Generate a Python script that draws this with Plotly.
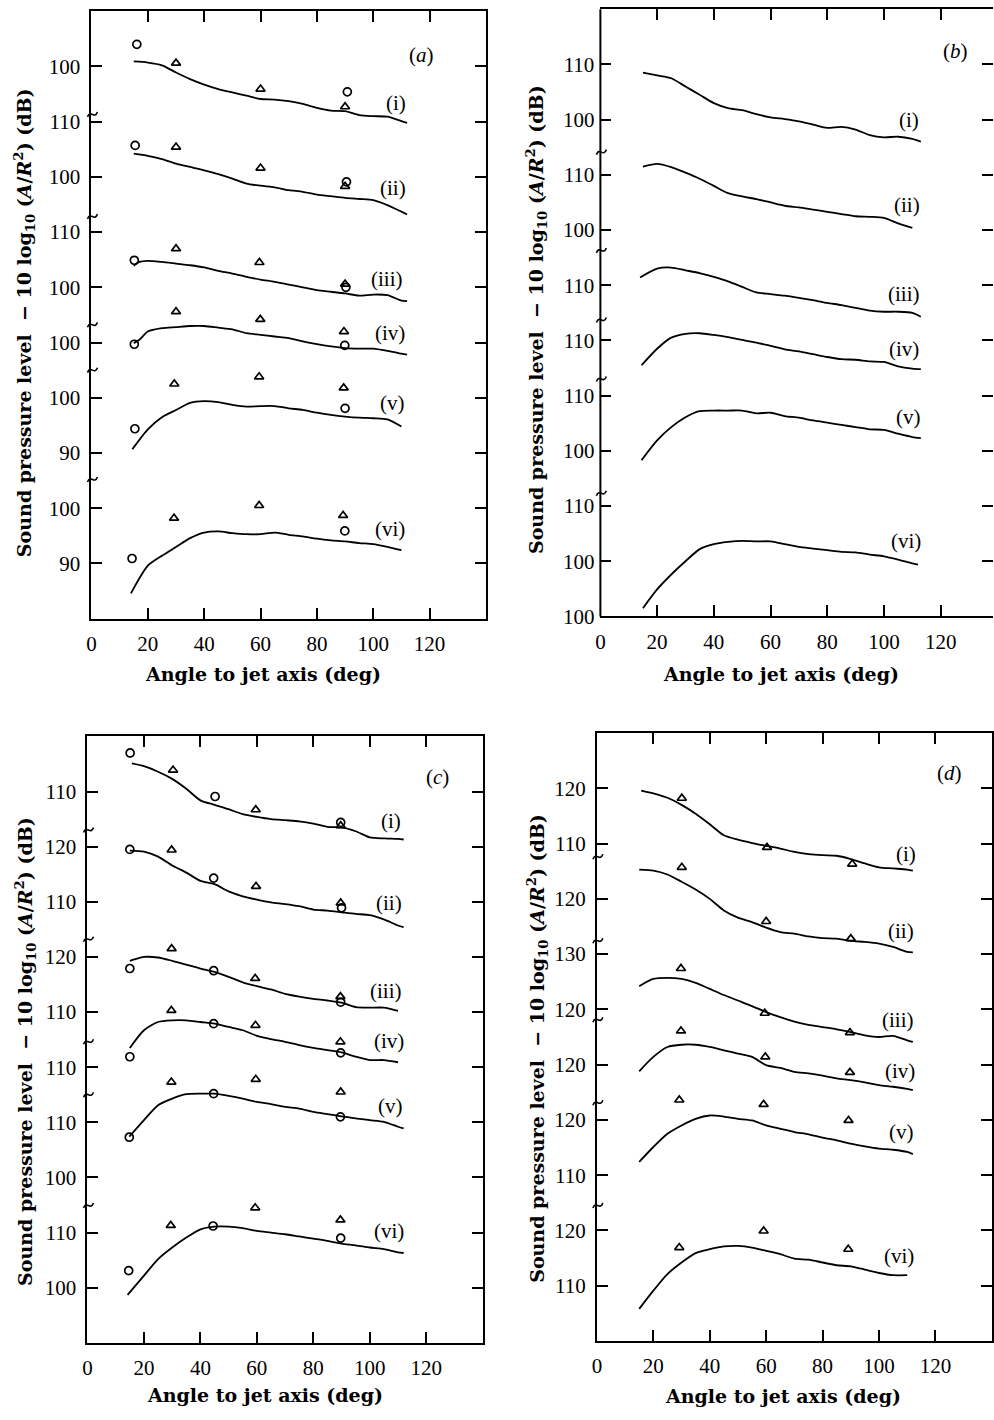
import plotly.graph_objects as go

W, H = 994, 1420
FONT = "Liberation Serif"
TFONT = "DejaVu Serif"

G = [20, 25, 30, 35, 40, 45, 50, 55, 60, 65, 70, 75, 80, 85, 90, 95, 100, 105, 110]
CURVE_NAMES = ["(i)", "(ii)", "(iii)", "(iv)", "(v)", "(vi)"]
X_TICKS = [0, 20, 40, 60, 80, 100, 120]

# ---------------- panel (a) ----------------
A_TICKLABELS = ["100", "110", "100", "110", "100", "100", "100", "90", "100", "90"]
A_REF = [0, 1, 3, 5, 6, 8]
A_ANG = [[15] + G + [112], [15] + G + [112], [15, 17] + G + [112],
         [15, 17] + G + [112], [14.5] + G, [14] + G]
A_DB = [
    [100.9, 100.7, 100.2, 98.9, 97.7, 96.7, 95.9, 95.3, 94.7, 94.1, 94.0, 93.7, 93.2, 92.5, 92.0, 91.9, 91.2, 91.0, 90.9, 90.1, 89.8],
    [104.2, 103.8, 103.2, 102.4, 101.8, 101.2, 100.5, 99.7, 98.8, 98.4, 98.1, 97.6, 97.3, 96.8, 96.5, 96.2, 96.0, 95.8, 94.9, 93.7, 93.2],
    [103.9, 104.6, 104.8, 104.6, 104.3, 104.0, 103.6, 103.0, 102.5, 101.9, 101.4, 101.0, 100.5, 100.0, 99.5, 99.2, 98.9, 98.5, 98.7, 98.6, 97.6, 97.5],
    [99.9, 100.5, 102.0, 102.6, 102.8, 103.0, 103.0, 102.7, 102.4, 101.7, 101.4, 101.1, 100.8, 100.2, 99.7, 99.3, 99.0, 98.9, 98.9, 98.5, 98.0, 97.8],
    [90.7, 94.3, 96.5, 97.8, 99.1, 99.4, 99.2, 98.7, 98.4, 98.5, 98.5, 98.1, 97.8, 97.3, 96.9, 96.6, 96.4, 96.3, 96.1, 94.8],
    [84.6, 89.6, 91.4, 93.0, 94.6, 95.6, 95.8, 95.5, 95.3, 95.3, 95.6, 95.2, 94.9, 94.5, 94.2, 94.0, 93.7, 93.5, 93.0, 92.4],
]
A_CIRC_ANG = [[16.1, 90.8], [15.5, 90.5], [15.2, 90.3], [15.2, 89.9], [15.4, 90.0], [14.4, 89.9]]
A_CIRC_DB = [[104.0, 95.4], [105.7, 99.1], [104.9, 100.0], [99.7, 99.5], [94.4, 98.1], [90.9, 95.9]]
A_TRI_ANG = [[30, 60, 90], [30, 60, 90], [30, 59.6, 90], [30, 59.9, 89.6], [29.4, 59.5, 89.5], [29.3, 59.5, 89.3]]
A_TRI_DB = [[100.6, 95.9, 92.7], [105.4, 101.6, 98.3], [107.0, 104.5, 100.6],
            [105.6, 104.2, 102.0], [102.5, 103.8, 101.8], [98.2, 100.5, 98.7]]
A_LBL_ANG = [108, 107, 105, 105.8, 107, 105.8]
A_LBL_DB = [93.4, 98.0, 101.5, 101.7, 99.1, 96.3]

# ---------------- panel (b) ----------------
B_TICKLABELS = ["110", "100", "110", "100", "110", "110", "110", "100", "110", "100", "100"]
B_REF = [0, 2, 4, 5, 6, 8]
B_ANG = [[15] + G + [113], [15] + G, [14] + G + [113], [14.5] + G + [113], [14.5] + G + [113], [15] + G + [112]]
B_DB = [
    [108.5, 108.0, 107.5, 106.0, 104.5, 103.0, 102.1, 101.7, 101.0, 100.4, 100.1, 99.7, 99.1, 98.5, 98.7, 98.2, 97.2, 96.8, 96.9, 96.5, 96.0],
    [111.5, 112.0, 111.4, 110.4, 109.3, 108.0, 106.7, 106.1, 105.6, 105.0, 104.4, 104.1, 103.7, 103.3, 102.9, 102.5, 102.4, 102.2, 101.2, 100.4],
    [111.4, 113.0, 113.2, 112.7, 112.2, 111.5, 110.7, 109.7, 108.7, 108.4, 108.1, 107.7, 107.3, 106.8, 106.4, 105.9, 105.4, 105.2, 105.2, 105.0, 104.3],
    [105.5, 108.5, 110.5, 111.2, 111.3, 111.0, 110.6, 110.1, 109.6, 109.0, 108.4, 108.0, 107.5, 107.0, 106.6, 106.5, 106.2, 106.1, 105.3, 104.9, 104.8],
    [98.3, 101.9, 104.3, 106.1, 107.2, 107.3, 107.3, 107.3, 106.8, 106.9, 106.3, 106.0, 105.5, 105.1, 104.7, 104.3, 103.9, 103.8, 103.1, 102.5, 102.3],
    [91.5, 94.9, 97.6, 100.0, 102.2, 103.1, 103.5, 103.7, 103.6, 103.6, 103.1, 102.6, 102.3, 102.0, 101.7, 101.6, 101.2, 100.9, 100.3, 99.6, 99.4],
]
B_LBL_ANG = [109, 108, 107, 107, 108.8, 107.8]
B_LBL_DB = [100.0, 104.6, 108.5, 108.5, 106.1, 103.6]

# ---------------- panel (c) ----------------
C_TICKLABELS = ["110", "120", "110", "120", "110", "110", "110", "100", "110", "100"]
C_REF = [0, 1, 3, 5, 6, 8]
C_ANG = [[15.7] + G + [112], [15] + G + [112], [15, 17] + G, [15] + G, [14.8] + G + [112], [14.2] + G + [112]]
C_DB = [
    [115.1, 114.6, 113.6, 112.3, 110.5, 108.4, 107.6, 106.8, 105.9, 105.4, 105.0, 104.8, 104.6, 104.2, 103.6, 103.5, 102.8, 101.7, 101.5, 101.4, 101.3],
    [119.3, 119.1, 118.2, 116.6, 115.3, 113.8, 113.2, 111.9, 111.0, 110.4, 109.9, 109.6, 109.2, 108.6, 108.4, 108.1, 107.8, 107.6, 106.8, 105.7, 105.4],
    [119.3, 119.6, 120.0, 119.9, 119.3, 118.6, 117.9, 117.3, 116.4, 115.4, 114.7, 114.1, 113.3, 112.8, 112.4, 112.1, 111.7, 110.9, 110.8, 110.8, 110.2],
    [113.5, 116.7, 118.2, 118.5, 118.5, 118.2, 117.9, 117.3, 116.7, 115.7, 115.1, 114.6, 114.0, 113.5, 113.1, 112.7, 111.9, 111.3, 111.3, 110.9],
    [107.4, 110.4, 113.1, 114.3, 115.1, 115.2, 115.2, 114.8, 114.3, 113.7, 113.3, 112.8, 112.5, 111.9, 111.5, 111.1, 110.7, 110.4, 110.1, 109.2, 108.9],
    [98.7, 102.2, 105.2, 107.3, 109.1, 110.6, 111.1, 111.1, 110.8, 110.3, 110.0, 109.7, 109.3, 108.9, 108.5, 108.0, 107.7, 107.3, 107.0, 106.4, 106.3],
]
C_CIRC_ANG = [[15.1, 45.2, 89.7], [15.0, 44.7, 90.0], [15.0, 44.7, 89.7], [15.0, 44.7, 89.7], [14.8, 44.7, 89.6], [14.6, 44.5, 89.7]]
C_CIRC_DB = [[117.0, 109.1, 104.4], [119.5, 114.3, 108.9], [117.9, 117.5, 111.8],
             [111.9, 117.9, 112.6], [107.3, 115.2, 111.0], [103.1, 111.2, 109.0]]
C_TRI_ANG = [[30.3, 59.6, 89.7], [29.8, 59.7, 89.7], [29.8, 59.4, 89.6], [29.7, 59.5, 89.6], [29.7, 59.6, 89.7], [29.5, 59.4, 89.6]]
C_TRI_DB = [[113.9, 106.7, 103.8], [119.4, 112.8, 109.8], [121.5, 116.1, 112.8],
            [120.3, 117.6, 114.6], [117.3, 117.8, 115.5], [111.3, 114.5, 112.3]]
C_LBL_ANG = [107.5, 106.7, 105.7, 106.7, 107.5, 106.9]
C_LBL_DB = [104.6, 109.8, 113.8, 114.7, 113.0, 110.3]

# ---------------- panel (d) ----------------
D_TICKLABELS = ["120", "110", "120", "130", "120", "120", "120", "110", "120", "110"]
D_REF = [0, 2, 4, 5, 6, 8]
D_ANG = [[15.7] + G + [112], [15] + G + [112], [15] + G + [112], [15] + G + [112], [15] + G + [112], [15] + G]
D_DB = [
    [119.6, 119.1, 118.3, 117.0, 115.4, 113.5, 111.5, 110.7, 110.1, 109.6, 109.1, 108.5, 108.1, 107.9, 107.8, 107.2, 106.4, 105.7, 105.5, 105.3, 105.1],
    [125.3, 125.1, 124.4, 123.1, 121.7, 120.0, 117.9, 116.6, 115.8, 114.8, 114.0, 113.7, 113.2, 112.9, 112.8, 112.4, 112.2, 111.9, 111.3, 110.4, 110.3],
    [124.2, 125.5, 125.7, 125.5, 124.8, 123.7, 122.6, 121.6, 120.6, 119.5, 118.6, 117.8, 117.2, 116.8, 116.4, 115.9, 115.3, 115.0, 115.2, 114.4, 114.1],
    [118.8, 121.4, 123.2, 123.6, 123.6, 123.2, 122.6, 122.0, 121.4, 119.9, 119.4, 118.7, 118.4, 118.0, 117.5, 117.2, 116.8, 116.3, 116.0, 115.6, 115.4],
    [112.4, 115.1, 117.5, 119.0, 120.2, 120.8, 120.6, 120.2, 119.9, 119.0, 118.4, 117.8, 117.4, 116.8, 116.3, 115.7, 115.2, 114.8, 114.6, 114.2, 113.8],
    [105.8, 109.1, 112.1, 114.2, 115.9, 116.6, 117.1, 117.2, 116.9, 116.3, 115.7, 114.9, 114.7, 114.2, 113.7, 113.5, 112.9, 112.3, 111.9, 111.9],
]
D_TRI_ANG = [[30.1, 60.3, 90.5], [30.1, 60.0, 90.0], [29.8, 59.5, 89.7], [29.8, 59.7, 89.7], [29.2, 59.1, 89.2], [29.2, 59.1, 89.1]]
D_TRI_DB = [[118.2, 109.3, 106.3], [125.7, 115.9, 112.8], [127.4, 119.3, 115.8],
            [126.1, 121.4, 118.6], [123.6, 122.8, 119.9], [116.9, 119.9, 116.6]]
D_LBL_ANG = [109.6, 107.9, 106.7, 107.3, 107.9, 107.1]
D_LBL_DB = [108.1, 114.1, 118.0, 118.8, 117.8, 115.3]

# axis-break marks (in stacked-axis units, -10 per tick step)
A_BREAKS = [-8.6, -27.1, -46.7, -54.9, -74.7]
B_BREAKS = [-15.8, -33.6, -46.2, -56.9, -77.6]
C_BREAKS = [-6.9, -26.7, -45.3, -54.9, -75.0]
D_BREAKS = [-12.3, -27.5, -41.8, -56.8, -75.4]

# ---------------- layout geometry (pixels) ----------------
PANELS = [
    dict(letter="a", ticks=A_TICKLABELS, ref=A_REF, ang=A_ANG, db=A_DB,
         circ=(A_CIRC_ANG, A_CIRC_DB), tri=(A_TRI_ANG, A_TRI_DB),
         lbl=(A_LBL_ANG, A_LBL_DB), letter_pos=(117, 102.1), breaks=A_BREAKS,
         x0=87, pxdeg=2.835, right=484, top=11.3, bottom=624,
         xtitle=(260, 680), ytitle=(19, 325), open_right=False),
    dict(letter="b", ticks=B_TICKLABELS, ref=B_REF, ang=B_ANG, db=B_DB,
         circ=None, tri=None,
         lbl=(B_LBL_ANG, B_LBL_DB), letter_pos=(125.3, 112.4), breaks=B_BREAKS,
         x0=599, pxdeg=2.853, right=994, top=9.3, bottom=621.7,
         xtitle=(781, 680), ytitle=(535, 322), open_right=True),
    dict(letter="c", ticks=C_TICKLABELS, ref=C_REF, ang=C_ANG, db=C_DB,
         circ=(C_CIRC_ANG, C_CIRC_DB), tri=(C_TRI_ANG, C_TRI_DB),
         lbl=(C_LBL_ANG, C_LBL_DB), letter_pos=(124, 112.7), breaks=C_BREAKS,
         x0=83, pxdeg=2.84, right=480.6, top=742.7, bottom=1354.3,
         xtitle=(262, 1407), ytitle=(20, 1060), open_right=False),
    dict(letter="d", ticks=D_TICKLABELS, ref=D_REF, ang=D_ANG, db=D_DB,
         circ=None, tri=(D_TRI_ANG, D_TRI_DB),
         lbl=(D_LBL_ANG, D_LBL_DB), letter_pos=(124.9, 122.7), breaks=D_BREAKS,
         x0=595.5, pxdeg=2.838, right=992.8, top=739.3, bottom=1352.4,
         xtitle=(783, 1408), ytitle=(535, 1057), open_right=False),
]

YR = [-100, 10]
fig = go.Figure()
annotations = []
shapes = []
YTITLE = ("<b>Sound pressure level  − 10 log<sub>10</sub> (<i>A</i>/<i>R</i><sup>2</sup>) (dB)</b>")

for i, p in enumerate(PANELS):
    n = "" if i == 0 else str(i + 1)
    xr, yr = "x" + n, "y" + n
    ticks = p["ticks"]
    offs = [-10 * k - float(ticks[k]) for k in p["ref"]]
    for j in range(6):
        fig.add_trace(go.Scatter(
            x=p["ang"][j], y=[v + offs[j] for v in p["db"][j]], mode="lines",
            line=dict(color="black", width=1.8, shape="spline", smoothing=0.7),
            xaxis=xr, yaxis=yr, showlegend=False, hoverinfo="skip"))
        if p["circ"]:
            fig.add_trace(go.Scatter(
                x=p["circ"][0][j], y=[v + offs[j] for v in p["circ"][1][j]], mode="markers",
                marker=dict(symbol="circle-open", size=8, color="black", line=dict(width=1.7)),
                xaxis=xr, yaxis=yr, showlegend=False, cliponaxis=False))
        if p["tri"]:
            fig.add_trace(go.Scatter(
                x=p["tri"][0][j], y=[v + offs[j] for v in p["tri"][1][j]], mode="markers",
                marker=dict(symbol="triangle-up-open", size=8, color="black", line=dict(width=1.7)),
                xaxis=xr, yaxis=yr, showlegend=False, cliponaxis=False))
        annotations.append(dict(
            x=p["lbl"][0][j], y=p["lbl"][1][j] + offs[j], xref=xr, yref=yr,
            text=CURVE_NAMES[j], showarrow=False, xanchor="center", yanchor="middle",
            font=dict(family=FONT, size=21, color="black")))
    annotations.append(dict(
        x=p["letter_pos"][0], y=p["letter_pos"][1] + offs[0], xref=xr, yref=yr,
        text="(<i>%s</i>)" % p["letter"], showarrow=False, xanchor="center", yanchor="middle",
        font=dict(family=FONT, size=21, color="black")))

    xmax = (p["right"] - p["x0"]) / p["pxdeg"]
    xd = [p["x0"] / W, min(p["right"] / W, 1.0)]
    yd = [1 - p["bottom"] / H, 1 - p["top"] / H]
    axstyle = dict(linecolor="black", linewidth=2, mirror="ticks",
                   ticks="inside", ticklen=11, tickwidth=2, tickcolor="black",
                   showgrid=False, zeroline=False,
                   tickfont=dict(family=FONT, size=21, color="black"))
    fig.update_layout(**{
        "xaxis" + n: dict(domain=xd, range=[0, xmax], tickvals=X_TICKS,
                          ticktext=[str(t) for t in X_TICKS], anchor=yr, showline=True,
                          ticklabelstandoff=5, **axstyle),
        "yaxis" + n: dict(domain=yd, range=YR, tickvals=[-10 * k for k in range(len(ticks))],
                          ticktext=ticks, anchor=xr, ticklabelstandoff=5,
                          showline=not p["open_right"], **axstyle),
    })
    if p["open_right"]:
        # frame's right edge lies beyond the page: draw only the left axis line
        shapes.append(dict(type="line", xref="paper", yref="paper",
                           x0=xd[0], x1=xd[0], y0=yd[0], y1=yd[1],
                           line=dict(color="black", width=2)))

    # axis titles
    annotations.append(dict(x=p["xtitle"][0] / W, y=1 - p["xtitle"][1] / H, xref="paper", yref="paper",
                            text="<b>Angle to jet axis (deg)</b>", showarrow=False,
                            xanchor="center", yanchor="middle",
                            font=dict(family=TFONT, size=19, color="black")))
    annotations.append(dict(x=p["ytitle"][0] / W, y=1 - p["ytitle"][1] / H, xref="paper", yref="paper",
                            text=YTITLE, showarrow=False, textangle=-90,
                            xanchor="center", yanchor="middle",
                            font=dict(family=TFONT, size=19, color="black")))

    # break marks on the left axis (small tilde across the axis line)
    for bv in p["breaks"]:
        ypx = p["top"] + (YR[1] - bv) / (YR[1] - YR[0]) * (p["bottom"] - p["top"])
        xpx = p["x0"] + 1
        def P(dx, dy):
            return "%.5f,%.5f" % ((xpx + dx) / W, 1 - (ypx + dy) / H)
        path = "M %s C %s %s %s" % (P(-5, 3), P(-2, -5), P(2, 6), P(5, -2))
        shapes.append(dict(type="path", xref="paper", yref="paper", path=path,
                           line=dict(color="black", width=1.6)))

fig.update_layout(width=W, height=H, margin=dict(l=0, r=0, t=0, b=0),
                  paper_bgcolor="white", plot_bgcolor="white", showlegend=False,
                  annotations=annotations, shapes=shapes,
                  font=dict(family=FONT, color="black"))
fig.write_html("out.html")
